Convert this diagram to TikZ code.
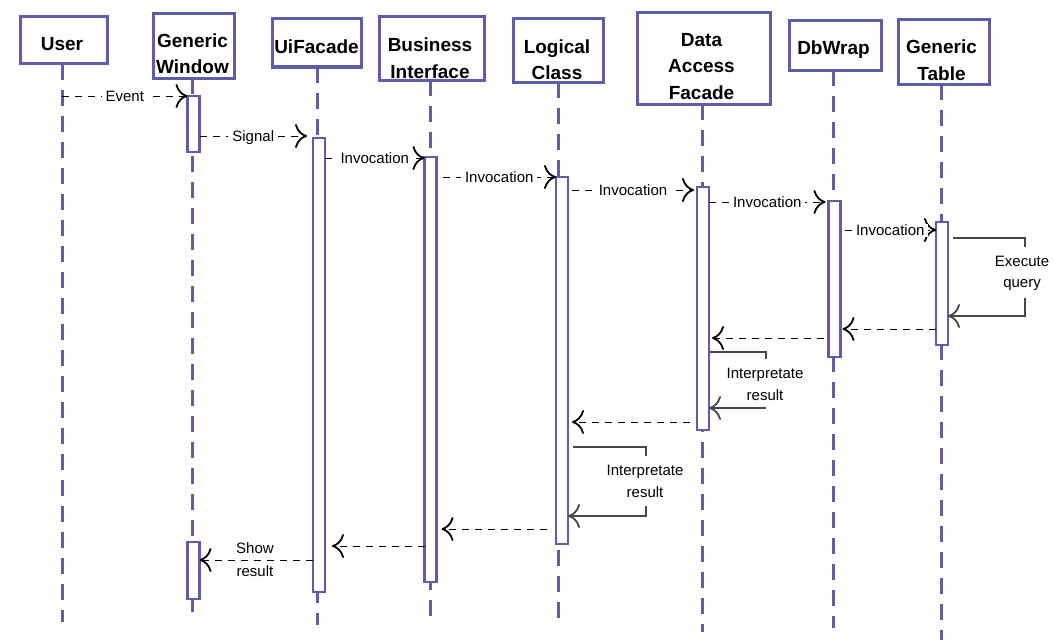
\documentclass[tikz,border=0pt]{standalone}
\usepackage{fontspec}
\setmainfont{Liberation Sans}
\usetikzlibrary{arrows.meta,calc}
\definecolor{lf}{RGB}{95,92,170}
\definecolor{selfc}{RGB}{70,70,70}
\begin{document}
\begin{tikzpicture}[x=1pt,y=-1pt,
  headbox/.style={draw=lf,line width=3pt,fill=white,inner sep=0pt,outer sep=0pt},
  htext/.style={anchor=base,inner sep=0pt,font=\fontsize{19}{26}\selectfont\bfseries},
  life/.style={draw=lf,line width=3pt,dash pattern=on 16pt off 10pt},
  act/.style={draw=lf,line width=2.4pt,fill=white,minimum width=12pt,inner sep=0pt,outer sep=0pt},
  tipa/.style={-{Computer Modern Rightarrow[length=12pt,width=24pt,line width=1.8pt]}},
  msg/.style={tipa,line width=1pt,dash pattern=on 7pt off 6pt},
  selfl/.style={line width=1.1pt,draw=selfc},
  selfa/.style={tipa,line width=1.1pt,draw=selfc},
  lbl/.style={fill=white,font=\fontsize{15}{21}\selectfont,inner xsep=4pt,inner ysep=1pt,text height=11pt,text depth=0pt},
  blbl/.style={anchor=base,fill=white,font=\fontsize{15}{21}\selectfont,inner xsep=2pt,inner ysep=3pt}]
\useasboundingbox (0,0) rectangle (1054,642);

% lifeline end points
\coordinate (userE) at (62,622);
\coordinate (gwE) at (192,612);
\coordinate (uiE) at (317,625);
\coordinate (busE) at (430,620);
\coordinate (logE) at (558,625);
\coordinate (dafE) at (702,632);
\coordinate (dbwE) at (833,628);
\coordinate (gtE) at (941,640);

% header boxes
\node[headbox,minimum width=87pt,minimum height=47pt] (user) at (63.5,40.5) {};
\node[headbox,minimum width=81pt,minimum height=64pt] (gw) at (193.5,46) {};
\node[headbox,minimum width=89pt,minimum height=48pt] (ui) at (316.5,43) {};
\node[headbox,minimum width=105pt,minimum height=63pt] (bus) at (431.5,48.5) {};
\node[headbox,minimum width=90pt,minimum height=63pt] (log) at (558,50.5) {};
\node[headbox,minimum width=133pt,minimum height=91pt] (daf) at (703.5,58.5) {};
\node[headbox,minimum width=92pt,minimum height=49pt] (dbw) at (835,45.5) {};
\node[headbox,minimum width=91pt,minimum height=64pt] (gt) at (943.5,52) {};

% lifelines
\draw[life] (user.south -| userE) -- (userE);
\draw[life] (gw.south -| gwE) -- (gwE);
\draw[life] (ui.south -| uiE) -- (uiE);
\draw[life] (bus.south -| busE) -- (busE);
\draw[life] (log.south -| logE) -- (logE);
\draw[life] (daf.south -| dafE) -- (dafE);
\draw[life] (dbw.south -| dbwE) -- (dbwE);
\draw[life] (gt.south -| gtE) -- (gtE);

% header texts
\node[htext] (t1) at (62,51) {User};
\node[htext] (t2) at (192.5,48) {Generic};
\node[htext] (t3) at (192.5,74) {Window};
\node[htext] (t4) at (316.5,53) {UiFacade};
\node[htext] (t5) at (430,52) {Business};
\node[htext] (t6) at (430,78) {Interface};
\node[htext] (t7) at (557,54) {Logical};
\node[htext] (t8) at (557,79) {Class};
\node[htext] (t9) at (701.5,47) {Data};
\node[htext] (t10) at (701.5,73) {Access};
\node[htext] (t11) at (701.5,99) {Facade};
\node[htext] (t12) at (833.5,55) {DbWrap};
\node[htext] (t13) at (941.5,54) {Generic};
\node[htext] (t14) at (941.5,80) {Table};

% activations
\node[act,minimum height=56pt] (gw1) at (193.5,124) {};
\node[act,minimum height=57pt] (gw2) at (193.5,570.5) {};
\node[act,minimum height=454pt] (uia) at (319,365) {};
\node[act,minimum height=425pt] (busa) at (430.5,369.5) {};
\node[act,minimum height=367pt] (loga) at (562,360.5) {};
\node[act,minimum height=243pt] (dafa) at (703,308.5) {};
\node[act,minimum height=156pt] (dbwa) at (834.5,279) {};
\node[act,minimum height=123pt] (gta) at (942,283.5) {};

% forward messages
\draw[msg] (userE |- gw1.north) -- node[lbl]{Event} (gw1.north west);
\draw[msg] (gw1.east |- 0,136) -- node[lbl]{Signal} ($(uia.west |- 0,136)+(-6,0)$);
\draw[msg] (uia.east |- 0,158) -- node[lbl]{Invocation} (busa.west |- 0,158);
\draw[msg] ($(busa.east |- 0,177)+(6,0)$) -- node[lbl]{Invocation} (loga.west |- 0,177);
\draw[msg] ($(loga.east |- 0,190)+(4,0)$) -- node[lbl]{Invocation} ($(dafa.west |- 0,190)+(-3,0)$);
\draw[msg] (dafa.east |- 0,202) -- node[lbl]{Invocation} ($(dbwa.west |- 0,202)+(-3,0)$);
\draw[msg] ($(dbwa.east |- 0,230)+(4,0)$) -- node[lbl]{Invocation} (gta.west |- 0,230);

% self message: Execute query
\draw[selfl] ($(gta.east |- 0,238)+(5,0)$) -| (1025,247);
\draw[selfa] (1025,298) |- ($(gta.east |- 0,316)$);
\node[blbl] (eq1) at (1022,266) {Execute};
\node[blbl] (eq2) at (1022,287) {query};

% returns
\draw[msg] (gta.west |- 0,329) -- ($(dbwa.east |- 0,329)+(2,0)$);
\draw[msg] ($(dbwa.west |- 0,338)+(-5,0)$) -- ($(dafa.east |- 0,338)+(3,0)$);

% self message DAF
\draw[selfl] ($(dafa.east |- 0,352)+(1,0)$) -| (766,359);
\draw[selfa] (766,408) -- (dafa.east |- 0,408);
\node[blbl] (ir1) at (765,378) {Interpretate};
\node[blbl] (ir2) at (765,400) {result};

\draw[msg] ($(dafa.west |- 0,422)+(-7,0)$) -- ($(loga.east |- 0,422)+(4,0)$);

% self message Logical
\draw[selfl] ($(loga.east |- 0,447)+(5,0)$) -| (646,456);
\draw[selfa] (646,506) |- (loga.east |- 0,516);
\node[blbl] (ir3) at (645,475) {Interpretate};
\node[blbl] (ir4) at (645,497) {result};

\draw[msg] ($(loga.west |- 0,529)+(-9,0)$) -- ($(busa.east |- 0,529)+(5,0)$);
\draw[msg] (busa.west |- 0,546) -- ($(uia.east |- 0,546)+(7,0)$);
\draw[msg] (uia.west |- 0,560) -- (gw2.east |- 0,560);
\node[blbl] (sr1) at (255,553) {Show};
\node[blbl] (sr2) at (255,576) {result};
\end{tikzpicture}
\end{document}
